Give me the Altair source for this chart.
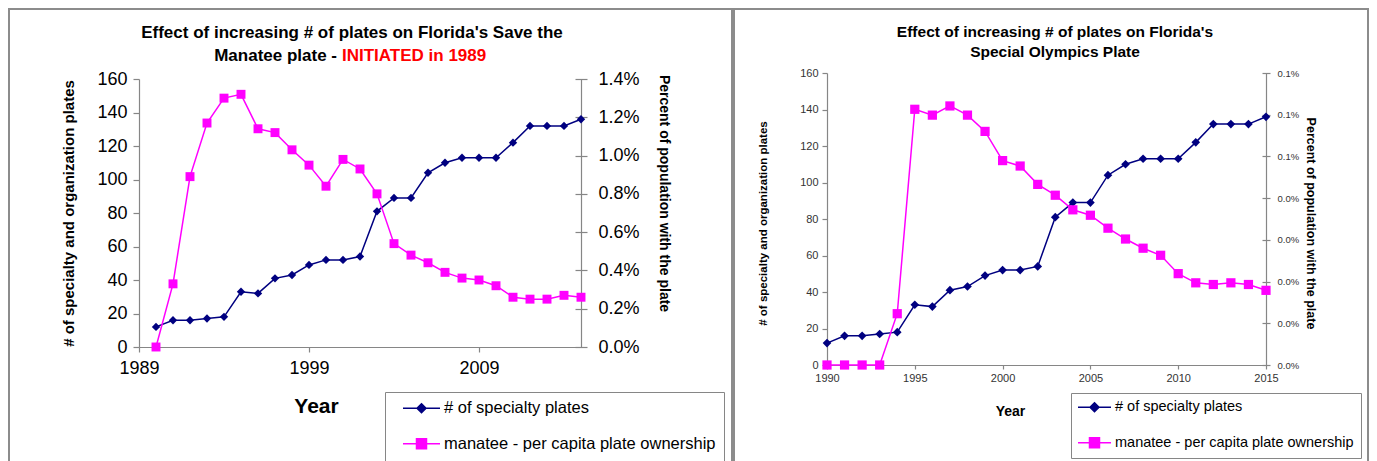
import altair as alt
import pandas as pd

# ---------------- data ----------------
years = list(range(1990, 2016))
specialty_plates = [12, 16, 16, 17, 18, 33, 32, 41, 43, 49, 52, 52, 54, 81, 89, 89,
                    104, 110, 113, 113, 113, 122, 132, 132, 132, 136]
manatee_share = [0.0, 0.0033, 0.0089, 0.0117, 0.0130, 0.0132, 0.0114, 0.0112, 0.0103,
                 0.0095, 0.0084, 0.0098, 0.0093, 0.0080, 0.0054, 0.0048, 0.0044, 0.0039,
                 0.0036, 0.0035, 0.0032, 0.0026, 0.0025, 0.0025, 0.0027, 0.0026]
olympics_share = [0.0, 0.0, 0.0, 0.0, 0.000123, 0.000613, 0.000599, 0.000621, 0.000599,
                  0.000560, 0.000490, 0.000477, 0.000433, 0.000407, 0.000372, 0.000359,
                  0.000328, 0.000302, 0.000280, 0.000263, 0.000219, 0.000197, 0.000193,
                  0.000197, 0.000193, 0.000179]
series_names = ["# of specialty plates", "manatee - per capita plate ownership"]

left_title_1 = "Effect of increasing # of plates on Florida's Save the"
left_title_2a = "Manatee plate -"
left_title_2b = "INITIATED in 1989"
right_title_1 = "Effect of increasing # of plates on Florida's"
right_title_2 = "Special Olympics Plate"
y_left_title = "# of specialty and organization plates"
y_right_title = "Percent of population with the plate"
x_title = "Year"

left_x_ticks = [1989, 1999, 2009]
right_x_ticks = [1990, 1995, 2000, 2005, 2010, 2015]
plate_ticks = [0, 20, 40, 60, 80, 100, 120, 140, 160]
left_share_ticks = [0, 0.002, 0.004, 0.006, 0.008, 0.010, 0.012, 0.014]
right_share_ticks = [0, 0.0001, 0.0002, 0.0003, 0.0004, 0.0005, 0.0006, 0.0007]

# ---------------- styles ----------------
NAVY = "#000080"
MAGENTA = "#FF00FF"
GREY = "#868686"
FRAME = "#8c8c8c"
FONT = "Liberation Sans"

# legend symbols: nominal symbol size 100 (unit = 5 px); a line segment plus the marker
LEG_UNIT = 5.0


def legend_paths(half_line_px, diamond_px, square_px):
    a = half_line_px / LEG_UNIT
    d = diamond_px / LEG_UNIT
    q = square_px / LEG_UNIT
    line = f"M-{a:.3f},0L{a:.3f},0"
    diamond = f"{line}M0,-{d:.3f}L{d:.3f},0L0,{d:.3f}L-{d:.3f},0Z"
    square = f"{line}M-{q:.3f},-{q:.3f}L{q:.3f},-{q:.3f}L{q:.3f},{q:.3f}L-{q:.3f},{q:.3f}Z"
    return [diamond, square]


LEFT = dict(
    w=442, h=274, top=6, xdom=[1989, 2015], xticks=left_x_ticks, xlab=18, xpad=7, xtick=5,
    xtitle=21, xtitleX=177, xtitleY=59, labcol="black",
    ylab=18, ytick=6, ypad=6, ytitle=15, ytitleX=-71, ytitleY=140,
    smax=0.014, sticks=left_share_ticks, cross=6, slab=18, spad=11, stitle=14,
    stitleX=88, stitleY=120,
    legX=246, legY=319, legfont=16.5, rowpad=18.5, legpad=8,
    symoff=20.25, laboff=14.25,
    paths=legend_paths(18.5, 4.5, 5.0),
    fx=-130, fx2=593, fy=-64, fy2=420,
    dsize=70, ssize=80,
)
RIGHT = dict(
    w=439, h=292, top=0, xdom=[1990, 2015], xticks=right_x_ticks, xlab=11, xpad=3, xtick=4,
    xtitle=14, xtitleX=183, xtitleY=46, labcol="#333333",
    ylab=11, ytick=5, ypad=4, ytitle=11.5, ytitleX=-64, ytitleY=150,
    smax=0.0007, sticks=right_share_ticks, cross=4, slab=9.5, spad=7, stitle=12.5,
    stitleX=48, stitleY=150,
    legX=244, legY=320, legfont=14.5, rowpad=19.5, legpad=7,
    symoff=9.25, laboff=13.25,
    paths=legend_paths(16.5, 4.5, 5.0),
    fx=-93, fx2=541, fy=-64, fy2=420,
    dsize=75, ssize=85,
)

one_row = pd.DataFrame({"k": [0]})


def build_panel(share, s, texts):
    df = pd.DataFrame({"year": years, "plates": specialty_plates, "share": share})
    base = alt.Chart(df)
    xscale = alt.Scale(domain=s["xdom"], nice=False, zero=False)
    x_axis = alt.Axis(
        values=s["xticks"], format="d", title=x_title, grid=False,
        labelFont=FONT, labelFontSize=s["xlab"], labelColor=s["labcol"],
        labelPadding=s["xpad"], tickSize=s["xtick"], labelFlush=False, labelOverlap=False,
        domainColor=GREY, tickColor=GREY, domainWidth=1.2, tickWidth=1.2,
        titleFont=FONT, titleFontSize=s["xtitle"], titleFontWeight="bold", titleColor="black",
        titleX=s["xtitleX"], titleY=s["xtitleY"], titleAlign="center", titleBaseline="middle",
    )
    X = alt.X("year:Q", scale=xscale, axis=x_axis)

    yrange = [s["h"], s["top"]]
    pscale = alt.Scale(domain=[0, 160], nice=False, zero=True, range=yrange)
    sscale = alt.Scale(domain=[0, s["smax"]], nice=False, zero=True, range=yrange)

    left_axis = alt.Axis(
        orient="left", values=plate_ticks, title=y_left_title, grid=False,
        labelFont=FONT, labelFontSize=s["ylab"], labelColor=s["labcol"],
        labelPadding=s["ypad"], tickSize=s["ytick"], labelFlush=False,
        domainColor=GREY, tickColor=GREY, domainWidth=1.2, tickWidth=1.2,
        titleFont=FONT, titleFontSize=s["ytitle"], titleFontWeight="bold", titleColor="black",
        titleAngle=270, titleX=s["ytitleX"], titleY=s["ytitleY"],
        titleAlign="center", titleBaseline="middle",
    )
    right_axis = alt.Axis(
        orient="right", values=s["sticks"], format=".1%", title=y_right_title, grid=False,
        offset=-s["cross"], tickSize=2 * s["cross"], domain=False,
        labelFont=FONT, labelFontSize=s["slab"], labelColor=s["labcol"],
        labelPadding=s["spad"], labelFlush=False, tickColor=GREY, tickWidth=1.2,
        titleFont=FONT, titleFontSize=s["stitle"], titleFontWeight="bold", titleColor="black",
        titleAngle=90, titleX=s["stitleX"], titleY=s["stitleY"],
        titleAlign="center", titleBaseline="middle",
    )
    right_domain = alt.Axis(
        orient="right", ticks=False, labels=False, domain=True, title=None, grid=False,
        domainColor=GREY, domainWidth=1.2,
    )

    blue_line = base.mark_line(color=NAVY, strokeWidth=1.5).encode(
        x=X, y=alt.Y("plates:Q", scale=pscale, axis=left_axis))
    blue_pts = base.mark_point(shape="diamond", filled=True, size=s["dsize"], color=NAVY,
                               opacity=1).encode(
        x=X, y=alt.Y("plates:Q", scale=pscale, axis=None))
    mag_line = base.mark_line(color=MAGENTA, strokeWidth=1.5).encode(
        x=X, y=alt.Y("share:Q", scale=sscale, axis=right_axis))
    mag_pts = base.mark_point(shape="square", filled=True, size=s["ssize"], color=MAGENTA,
                              opacity=1).encode(
        x=X, y=alt.Y("share:Q", scale=sscale, axis=right_domain))

    legend = alt.Legend(
        title=None, orient="none", legendX=s["legX"], legendY=s["legY"],
        direction="vertical", symbolSize=100, symbolStrokeWidth=1.5,
        symbolOffset=s["symoff"], labelOffset=s["laboff"],
        labelFont=FONT, labelFontSize=s["legfont"], labelColor="black",
        labelLimit=500, rowPadding=s["rowpad"], padding=s["legpad"],
        strokeColor=GREY, fillColor="white",
    )
    legend_layer = alt.Chart(pd.DataFrame({"series": series_names})).transform_filter(
        "false").mark_point(filled=True, opacity=1).encode(
        fill=alt.Fill("series:N", scale=alt.Scale(domain=series_names, range=[NAVY, MAGENTA]),
                      legend=legend),
        stroke=alt.Stroke("series:N",
                          scale=alt.Scale(domain=series_names, range=[NAVY, MAGENTA]),
                          legend=legend),
        shape=alt.Shape("series:N", scale=alt.Scale(domain=series_names, range=s["paths"]),
                        legend=legend),
    )

    frame = alt.Chart(one_row).mark_rect(fillOpacity=0, stroke=FRAME, strokeWidth=2).encode(
        x=alt.value(s["fx"]), x2=alt.value(s["fx2"]),
        y=alt.value(s["fy"]), y2=alt.value(s["fy2"]))

    layers = [frame] + texts + [blue_line, blue_pts, mag_line, mag_pts, legend_layer]
    return alt.layer(*layers).resolve_scale(y="independent").properties(
        width=s["w"], height=s["h"])


def title_text(text, x, y, align, color, size):
    return alt.Chart(one_row).mark_text(
        text=text, font=FONT, fontSize=size, fontWeight="bold", align=align,
        baseline="middle", color=color).encode(x=alt.value(x), y=alt.value(y))


left_texts = [
    title_text(left_title_1, 213, -40, "center", "black", 17),
    title_text(left_title_2a, 198, -17, "right", "black", 17),
    title_text(left_title_2b, 203, -17, "left", "#FF0000", 17),
]
right_texts = [
    title_text(right_title_1, 228, -41, "center", "black", 15.5),
    title_text(right_title_2, 228, -21, "center", "black", 15.5),
]

left_panel = build_panel(manatee_share, LEFT, left_texts)
right_panel = build_panel(olympics_share, RIGHT, right_texts)

chart = alt.hconcat(left_panel, right_panel, spacing=0).resolve_scale(
    fill="independent", stroke="independent", shape="independent"
).resolve_legend(
    fill="independent", stroke="independent", shape="independent"
).configure_view(stroke=None).properties(padding=0, background="white")

chart.save("out.html", embed_options={"renderer": "svg", "actions": False})
